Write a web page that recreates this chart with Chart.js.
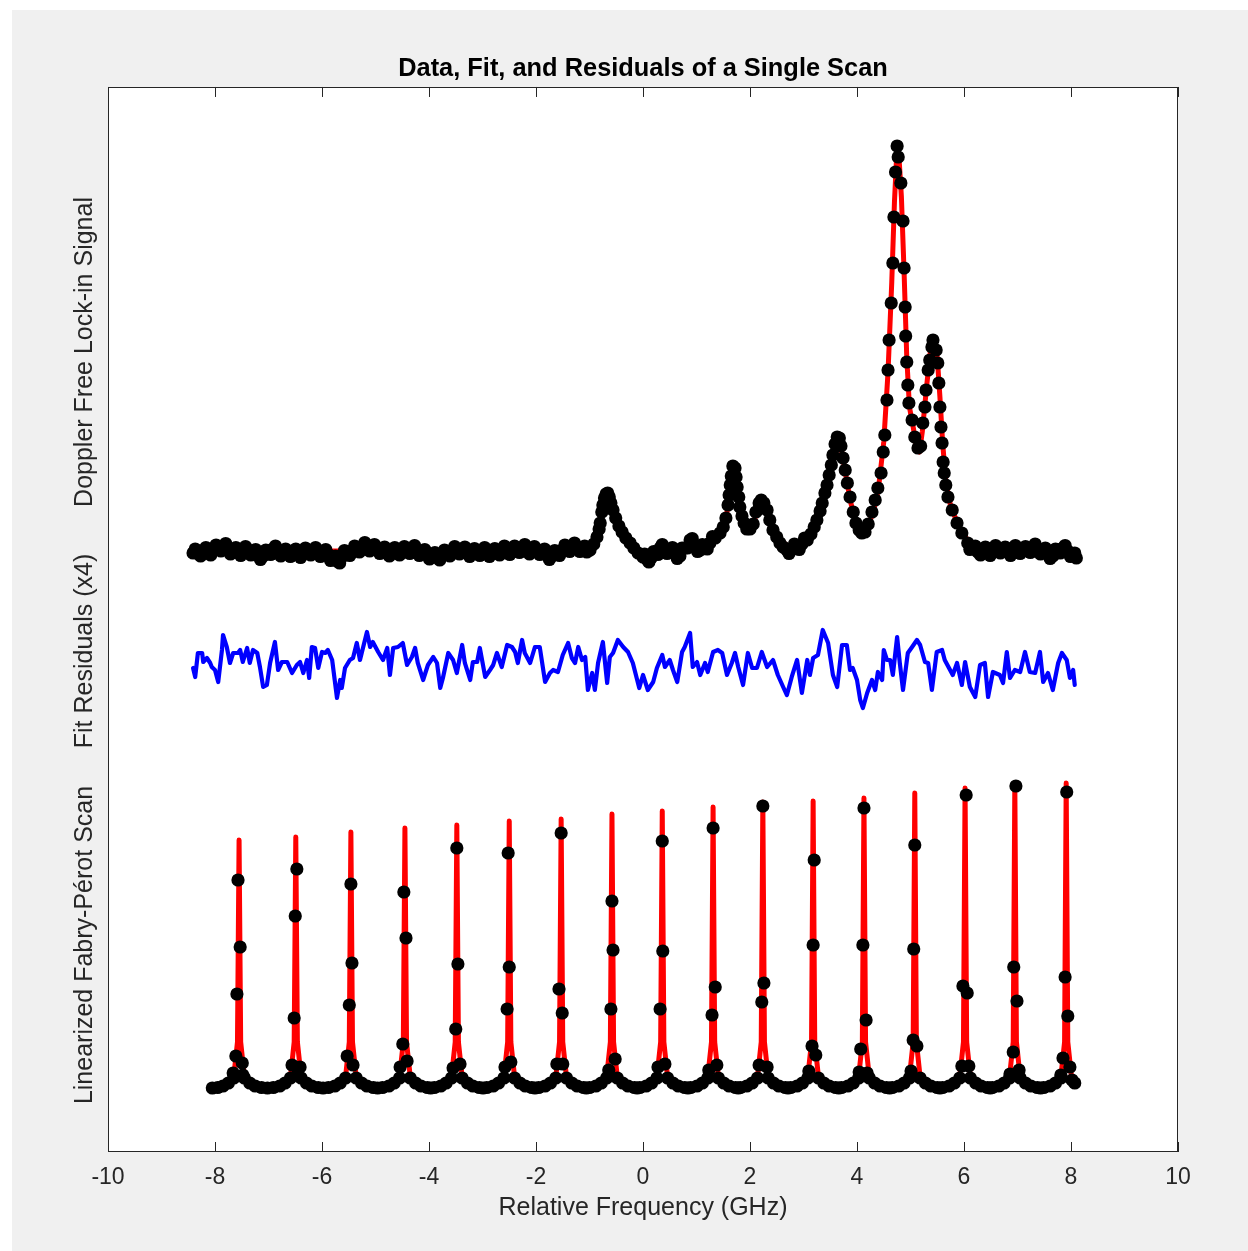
<!DOCTYPE html>
<html><head><meta charset="utf-8">
<script src="https://cdn.jsdelivr.net/npm/chart.js@4.4.1/dist/chart.umd.min.js"></script>
<style>html,body{margin:0;padding:0;background:#ffffff;}canvas{display:block;}</style>
</head><body>
<canvas id="c" width="1248" height="1251" style="width:1248px;height:1251px"></canvas>
<script>
// ---------- DATA (x in GHz, y in arbitrary stacked signal units) ----------
const xTickValues = [-10,-8,-6,-4,-2,0,2,4,6,8,10];

const scanData = [
[-8.41,59.9],[-8.33,59.9],[-8.22,60.1],[-8.13,60.0],[-8.03,60.2],[-7.94,60.4],[-7.85,60.6],[-7.76,60.3],[-7.66,60.1],[-7.57,60.0],
[-7.48,60.1],[-7.38,60.2],[-7.29,60.0],[-7.20,59.7],[-7.10,59.6],[-7.01,60.0],[-6.92,60.3],[-6.82,60.1],[-6.73,59.9],[-6.64,59.9],
[-6.54,60.0],[-6.45,59.8],[-6.36,59.9],[-6.26,60.1],[-6.17,60.1],[-6.08,60.0],[-5.98,59.9],[-5.89,59.8],[-5.79,59.3],[-5.72,59.1],
[-5.63,59.5],[-5.53,60.0],[-5.44,60.1],[-5.35,60.3],[-5.25,60.5],[-5.16,60.6],[-5.07,60.4],[-4.97,60.3],[-4.88,60.2],[-4.79,60.0],
[-4.69,60.0],[-4.60,60.1],[-4.51,60.1],[-4.41,60.2],[-4.32,60.3],[-4.23,60.2],[-4.13,59.9],[-4.04,59.8],[-3.94,59.6],[-3.85,59.5],
[-3.76,59.7],[-3.66,59.9],[-3.57,60.1],[-3.48,60.2],[-3.38,60.2],[-3.29,60.0],[-3.20,59.9],[-3.10,60.0],[-3.01,60.1],[-2.92,60.0],
[-2.82,59.9],[-2.73,60.0],[-2.64,60.2],[-2.54,60.2],[-2.45,60.1],[-2.36,60.3],[-2.26,60.4],[-2.17,60.3],[-2.08,60.1],[-1.98,60.2],
[-1.89,60.1],[-1.80,59.7],[-1.70,59.6],[-1.61,59.9],[-1.51,60.2],[-1.42,60.4],[-1.33,60.5],[-1.23,60.5],[-1.14,60.4],[-1.05,60.0],
[-0.99,60.2],[-0.92,60.8],[-0.86,61.5],[-0.82,62.3],[-0.80,62.9],[-0.77,64.0],[-0.75,64.7],[-0.72,65.4],[-0.69,65.8],[-0.66,65.9],
[-0.63,65.5],[-0.60,64.9],[-0.56,64.2],[-0.51,63.4],[-0.45,62.6],[-0.39,62.0],[-0.32,61.4],[-0.24,60.9],[-0.17,60.4],[-0.09,59.9],
[0.00,59.5],[0.07,59.3],[0.15,59.4],[0.24,59.9],[0.32,60.4],[0.41,60.3],[0.50,60.2],[0.60,59.9],[0.69,59.6],[0.78,60.4],
[0.88,61.2],[0.97,60.7],[1.07,60.2],[1.16,60.5],[1.25,60.9],[1.35,61.4],[1.44,61.9],[1.50,62.5],[1.55,63.4],[1.59,64.7],
[1.61,65.7],[1.63,66.7],[1.65,67.6],[1.68,68.6],[1.72,68.4],[1.74,67.5],[1.76,66.5],[1.79,65.5],[1.81,64.5],[1.85,63.6],
[1.89,62.9],[1.94,62.3],[2.00,62.3],[2.06,62.8],[2.11,64.0],[2.17,64.9],[2.21,65.2],[2.26,64.9],[2.32,64.2],[2.37,63.2],
[2.43,62.2],[2.50,61.5],[2.56,60.9],[2.62,60.5],[2.69,60.2],[2.78,60.3],[2.88,60.5],[2.97,60.8],[3.07,61.2],[3.14,61.8],
[3.20,62.5],[3.25,63.2],[3.31,64.1],[3.35,64.9],[3.40,65.9],[3.44,66.7],[3.48,67.7],[3.52,68.7],[3.55,69.7],[3.59,70.8],
[3.63,71.5],[3.67,71.4],[3.70,70.6],[3.74,69.4],[3.78,68.2],[3.82,66.9],[3.87,65.5],[3.93,64.0],[3.98,62.9],[4.04,62.2],
[4.09,61.9],[4.15,62.0],[4.21,62.8],[4.28,64.0],[4.34,65.2],[4.39,66.4],[4.45,67.9],[4.49,70.0],[4.52,71.7],[4.56,75.2],
[4.58,78.2],[4.60,81.2],[4.64,84.9],[4.67,88.9],[4.69,93.5],[4.72,98.0],[4.75,100.6],[4.77,99.5],[4.82,96.9],[4.86,93.1],
[4.88,88.4],[4.90,84.5],[4.91,81.6],[4.93,79.0],[4.95,76.7],[4.97,74.9],[5.03,73.2],[5.08,71.5],[5.14,70.4],[5.19,70.6],
[5.23,72.9],[5.27,74.5],[5.29,76.2],[5.33,78.2],[5.36,79.2],[5.40,80.5],[5.42,81.2],[5.48,80.2],[5.51,78.9],[5.53,76.9],
[5.55,74.5],[5.57,72.5],[5.59,70.9],[5.61,69.0],[5.63,67.9],[5.66,66.7],[5.70,65.5],[5.78,64.2],[5.87,62.9],[5.96,61.9],
[6.07,60.9],[6.16,60.4],[6.26,60.0],[6.36,60.2],[6.45,60.0],[6.54,60.1],[6.64,60.4],[6.73,60.2],[6.82,60.0],[6.92,60.1],
[7.01,60.4],[7.10,60.1],[7.20,60.2],[7.29,60.5],[7.38,60.3],[7.48,60.1],[7.57,59.9],[7.66,59.6],[7.76,60.2],[7.85,60.4],
[7.94,60.1],[8.04,59.8],[8.10,59.4],
// interleaved baseline samples (scatter of the noisy flat regions)
[-8.37,60.3],[-8.27,59.6],[-8.17,60.45],[-8.08,59.7],[-7.98,60.7],[-7.89,60.1],[-7.80,60.85],[-7.71,59.8],[-7.61,60.45],[-7.52,59.65],
[-7.43,60.55],[-7.33,59.7],[-7.24,60.25],[-7.15,59.25],[-7.05,60.2],[-6.96,59.75],[-6.87,60.6],[-6.77,59.6],[-6.68,60.3],[-6.59,59.55],
[-6.49,60.3],[-6.40,59.45],[-6.31,60.4],[-6.21,59.7],[-6.12,60.45],[-6.03,59.55],[-5.93,60.25],[-5.84,59.15],[-5.75,59.6],[-5.67,58.9],
[-5.58,60.15],[-5.48,59.65],[-5.39,60.6],[-5.30,60.0],[-5.20,60.95],[-5.11,60.1],[-5.02,60.75],[-4.92,59.85],[-4.83,60.5],[-4.74,59.6],
[-4.64,60.45],[-4.55,59.7],[-4.46,60.55],[-4.36,59.85],[-4.27,60.65],[-4.18,59.65],[-4.08,60.25],[-3.99,59.3],[-3.89,59.95],[-3.80,59.2],
[-3.71,60.2],[-3.61,59.6],[-3.52,60.55],[-3.43,59.8],[-3.33,60.5],[-3.24,59.55],[-3.15,60.35],[-3.05,59.65],[-2.96,60.45],[-2.87,59.55],
[-2.77,60.35],[-2.68,59.7],[-2.59,60.6],[-2.49,59.75],[-2.40,60.6],[-2.31,59.95],[-2.21,60.75],[-2.12,59.8],[-2.03,60.55],[-1.93,59.75],
[-1.84,60.3],[-1.75,59.25],[-1.65,60.15],[-1.56,59.65],[-1.46,60.7],[-1.37,60.05],[-1.28,60.9],[-1.18,60.05],[-1.09,60.6],
[0.03,59.8],[0.11,59.0],[0.20,60.05],[0.28,59.75],[0.36,60.75],[0.45,59.85],[0.55,60.45],[0.64,59.35],[0.73,60.4],[0.83,60.4],
[0.92,61.35],[1.02,60.05],[1.11,60.75],[1.20,60.3],[1.30,61.55],[2.73,59.85],[2.83,60.8],[2.92,60.25],[3.02,61.4],
[6.11,60.25],[6.21,60.6],[6.31,59.7],[6.40,60.5],[6.49,59.65],[6.59,60.65],[6.68,59.9],[6.77,60.5],[6.87,59.65],[6.96,60.65],
[7.05,59.85],[7.15,60.55],[7.24,59.95],[7.33,60.8],[7.43,59.8],[7.52,60.4],[7.61,59.35],[7.71,60.3],[7.80,59.9],[7.89,60.65],
[7.99,59.55],[8.07,59.9]
];

const scanFit = [
[-8.41,60.0],[-7.0,60.1],[-5.5,60.1],[-4.0,60.1],[-2.0,60.15],[-1.3,60.3],[-1.0,60.6],[-0.9,61.0],[-0.82,62.0],[-0.77,63.8],
[-0.72,65.2],[-0.67,65.8],[-0.62,65.2],[-0.55,64.0],[-0.45,62.7],[-0.3,61.4],[-0.15,60.5],[0.0,59.9],[0.15,59.8],[0.4,60.0],
[0.8,60.3],[1.1,60.6],[1.3,61.0],[1.45,61.8],[1.55,63.2],[1.62,66.0],[1.68,68.3],[1.74,67.6],[1.8,65.0],[1.88,63.0],
[1.97,62.3],[2.06,62.8],[2.15,64.4],[2.22,65.1],[2.3,64.3],[2.4,62.6],[2.5,61.5],[2.7,60.6],[2.9,60.6],[3.1,61.2],
[3.25,62.8],[3.4,65.5],[3.5,68.0],[3.58,70.5],[3.64,71.4],[3.7,70.5],[3.78,68.0],[3.88,65.0],[4.0,62.6],[4.1,62.0],
[4.2,62.6],[4.3,63.9],[4.4,66.3],[4.5,71.0],[4.58,78.0],[4.65,87.0],[4.7,95.0],[4.74,99.5],[4.76,100.2],[4.79,99.0],
[4.83,95.5],[4.88,88.0],[4.93,79.5],[4.98,74.5],[5.05,72.5],[5.12,70.3],[5.17,70.0],[5.22,72.0],[5.3,76.5],[5.38,80.5],
[5.43,81.0],[5.5,79.5],[5.55,75.5],[5.6,71.0],[5.66,67.0],[5.75,64.6],[5.9,62.6],[6.1,60.9],[6.4,60.2],[7.0,60.1],[8.1,60.0]
];

const residuals = [
[-8.41,48.4],[-8.37,47.5],[-8.32,49.9],[-8.24,49.9],[-8.22,49.0],[-8.15,49.4],[-8.09,48.9],[-8.06,48.5],[-8.00,48.2],[-7.94,47.0],
[-7.87,50.2],[-7.85,51.7],[-7.78,50.5],[-7.72,48.9],[-7.66,49.9],[-7.57,49.9],[-7.53,50.2],[-7.48,49.0],[-7.40,50.4],[-7.35,48.9],
[-7.29,50.2],[-7.21,49.9],[-7.16,48.5],[-7.10,46.5],[-7.03,46.7],[-6.97,48.9],[-6.88,51.0],[-6.82,48.2],[-6.75,49.0],[-6.65,49.0],
[-6.56,47.9],[-6.47,48.7],[-6.41,49.0],[-6.35,47.9],[-6.28,49.2],[-6.24,47.4],[-6.19,50.5],[-6.13,50.4],[-6.07,48.4],[-6.00,50.0],
[-5.94,49.9],[-5.89,50.2],[-5.81,49.2],[-5.72,45.4],[-5.66,47.2],[-5.63,46.4],[-5.57,48.4],[-5.48,49.2],[-5.42,49.4],[-5.35,50.9],
[-5.29,49.2],[-5.16,52.0],[-5.10,50.5],[-5.05,51.0],[-4.95,50.0],[-4.86,49.2],[-4.78,50.4],[-4.73,47.7],[-4.67,50.4],[-4.58,50.5],
[-4.49,50.9],[-4.41,48.7],[-4.32,49.5],[-4.26,50.4],[-4.21,48.9],[-4.11,47.2],[-4.02,48.7],[-3.92,49.5],[-3.85,48.9],[-3.79,46.4],
[-3.74,47.4],[-3.64,49.9],[-3.55,49.2],[-3.48,47.9],[-3.38,50.7],[-3.33,48.9],[-3.23,47.2],[-3.18,49.0],[-3.10,49.0],[-3.05,50.4],
[-2.95,47.5],[-2.86,48.2],[-2.80,48.7],[-2.73,49.9],[-2.64,48.5],[-2.54,50.7],[-2.45,50.5],[-2.39,50.0],[-2.34,48.9],[-2.26,51.2],
[-2.21,49.9],[-2.11,48.9],[-2.02,50.5],[-1.93,50.5],[-1.83,47.0],[-1.74,47.9],[-1.68,48.2],[-1.59,48.0],[-1.50,49.7],[-1.40,50.9],
[-1.33,49.4],[-1.27,48.9],[-1.21,50.5],[-1.14,49.2],[-1.08,49.5],[-1.03,46.2],[-0.95,47.9],[-0.90,46.2],[-0.84,48.9],[-0.75,51.0],
[-0.67,46.9],[-0.62,49.5],[-0.56,49.9],[-0.47,51.2],[-0.37,50.5],[-0.28,50.0],[-0.19,48.9],[-0.07,46.4],[0.00,47.7],[0.09,46.2],
[0.19,47.0],[0.26,48.4],[0.36,49.7],[0.41,48.5],[0.50,49.2],[0.56,48.2],[0.64,47.0],[0.73,50.0],[0.78,50.5],[0.88,51.9],
[0.93,48.5],[1.01,49.0],[1.07,47.7],[1.16,48.9],[1.21,48.0],[1.31,50.0],[1.40,50.2],[1.48,49.9],[1.57,47.7],[1.66,48.9],
[1.72,49.9],[1.78,48.5],[1.87,46.7],[1.96,49.9],[2.04,48.4],[2.13,48.4],[2.22,50.0],[2.32,48.5],[2.43,49.2],[2.52,47.7],
[2.62,46.5],[2.69,45.7],[2.78,47.5],[2.88,49.2],[2.97,45.9],[3.07,49.2],[3.12,47.7],[3.18,49.4],[3.27,49.7],[3.36,52.2],
[3.46,50.9],[3.55,47.7],[3.63,46.5],[3.72,50.7],[3.81,50.7],[3.87,48.2],[3.92,48.4],[4.00,47.2],[4.06,45.2],[4.11,44.4],
[4.19,45.9],[4.28,47.2],[4.34,46.2],[4.39,48.0],[4.47,47.2],[4.50,50.2],[4.56,49.2],[4.62,49.2],[4.67,47.7],[4.75,51.5],
[4.80,48.9],[4.86,46.2],[4.95,49.9],[5.03,50.5],[5.12,51.2],[5.18,50.7],[5.27,49.0],[5.33,48.9],[5.40,46.2],[5.49,50.0],
[5.59,50.2],[5.64,49.2],[5.74,48.2],[5.79,47.7],[5.87,48.9],[5.96,46.7],[6.02,49.0],[6.11,46.5],[6.21,45.5],[6.30,48.7],
[6.39,48.9],[6.45,45.5],[6.54,48.0],[6.67,47.7],[6.73,46.9],[6.80,50.0],[6.86,47.4],[6.95,48.2],[7.05,48.0],[7.14,50.0],
[7.23,48.0],[7.33,47.9],[7.42,50.0],[7.48,47.0],[7.57,47.9],[7.66,46.2],[7.76,48.9],[7.83,49.9],[7.92,49.2],[7.98,47.4],
[8.04,48.2],[8.07,46.7]
];

const fabryPerotData = [
[-8.05,6.4],[-7.95,6.45],[-7.85,6.6],[-7.75,6.9],[-7.65,7.4],
[-7.66,7.9],[-7.61,9.6],[-7.59,15.8],[-7.57,27.2],[-7.53,20.5],[-7.49,8.9],[-7.48,7.7],
[-7.45,7.4],[-7.35,6.9],[-7.25,6.6],[-7.13,6.45],[-7.02,6.4],[-6.91,6.45],[-6.79,6.6],[-6.69,6.9],[-6.59,7.4],
[-6.56,8.7],[-6.52,13.4],[-6.50,23.6],[-6.47,28.3],[-6.45,7.8],[-6.41,8.5],
[-6.39,7.4],[-6.29,6.9],[-6.19,6.6],[-6.07,6.45],[-5.98,6.4],[-5.88,6.45],[-5.76,6.6],[-5.66,6.9],[-5.56,7.4],
[-5.53,9.6],[-5.49,14.7],[-5.46,26.8],[-5.44,18.9],[-5.42,8.7],
[-5.36,7.4],[-5.26,6.9],[-5.16,6.6],[-5.04,6.45],[-4.96,6.4],[-4.87,6.45],[-4.75,6.6],[-4.65,6.9],[-4.55,7.4],
[-4.54,8.5],[-4.49,10.8],[-4.47,26.0],[-4.43,21.4],[-4.41,9.1],
[-4.35,7.4],[-4.25,6.9],[-4.15,6.6],[-4.03,6.45],[-3.97,6.4],[-3.90,6.45],[-3.78,6.6],[-3.68,6.9],[-3.58,7.4],
[-3.55,8.4],[-3.50,12.3],[-3.48,30.4],[-3.46,18.8],[-3.42,8.8],
[-3.38,7.4],[-3.28,6.9],[-3.18,6.6],[-3.06,6.45],[-2.99,6.4],[-2.92,6.45],[-2.80,6.6],[-2.70,6.9],[-2.60,7.4],
[-2.58,8.5],[-2.54,14.3],[-2.52,29.9],[-2.50,18.5],[-2.47,9.0],
[-2.40,7.4],[-2.30,6.9],[-2.20,6.6],[-2.08,6.45],[-2.02,6.4],[-1.95,6.45],[-1.83,6.6],[-1.73,6.9],[-1.63,7.4],
[-1.61,8.8],[-1.57,16.3],[-1.53,31.9],[-1.51,13.9],[-1.50,8.8],
[-1.43,7.4],[-1.33,6.9],[-1.23,6.6],[-1.11,6.45],[-1.06,6.4],[-1.00,6.45],[-0.88,6.6],[-0.78,6.9],[-0.68,7.4],
[-0.64,8.2],[-0.60,14.3],[-0.58,25.1],[-0.56,20.2],[-0.52,9.3],
[-0.48,7.4],[-0.38,6.9],[-0.28,6.6],[-0.16,6.45],[-0.11,6.4],[-0.06,6.45],[0.06,6.6],[0.16,6.9],[0.26,7.4],
[0.28,8.5],[0.32,14.3],[0.36,31.1],[0.37,20.1],[0.41,8.8],
[0.46,7.4],[0.56,6.9],[0.66,6.6],[0.78,6.45],[0.84,6.4],[0.89,6.45],[1.01,6.6],[1.11,6.9],[1.21,7.4],
[1.23,8.2],[1.29,13.7],[1.31,32.4],[1.35,16.5],[1.38,8.7],
[1.41,7.4],[1.51,6.9],[1.61,6.6],[1.73,6.45],[1.78,6.4],[1.82,6.45],[1.94,6.6],[2.04,6.9],[2.14,7.4],
[2.17,8.7],[2.22,15.0],[2.24,34.6],[2.26,16.9],[2.32,8.5],
[2.34,7.4],[2.44,6.9],[2.54,6.6],[2.66,6.45],[2.71,6.4],[2.76,6.45],[2.88,6.6],[2.98,6.9],[3.08,7.4],
[3.10,8.1],[3.16,10.6],[3.18,20.7],[3.20,29.2],[3.23,9.7],
[3.28,7.4],[3.38,6.9],[3.48,6.6],[3.60,6.45],[3.66,6.4],[3.71,6.45],[3.83,6.6],[3.93,6.9],[4.03,7.4],
[4.04,8.0],[4.07,10.3],[4.11,20.7],[4.13,34.4],[4.17,13.2],[4.19,7.9],
[4.23,7.4],[4.33,6.9],[4.43,6.6],[4.55,6.45],[4.61,6.4],[4.66,6.45],[4.78,6.6],[4.88,6.9],[4.98,7.4],
[5.01,8.1],[5.05,11.2],[5.06,20.3],[5.08,30.7],[5.12,10.6],
[5.18,7.4],[5.28,6.9],[5.38,6.6],[5.50,6.45],[5.55,6.4],[5.60,6.45],[5.72,6.6],[5.82,6.9],[5.92,7.4],
[5.96,8.6],[5.98,16.6],[6.04,35.7],[6.06,15.9],[6.09,8.6],
[6.12,7.4],[6.22,6.9],[6.32,6.6],[6.44,6.45],[6.49,6.4],[6.53,6.45],[6.65,6.6],[6.75,6.9],[6.85,7.4],
[6.86,7.8],[6.92,10.0],[6.93,18.5],[6.97,36.6],[6.99,15.1],[7.03,8.2],
[7.05,7.4],[7.15,6.9],[7.25,6.6],[7.37,6.45],[7.43,6.4],[7.49,6.45],[7.61,6.6],[7.71,6.9],[7.81,7.4],
[7.81,7.7],[7.85,9.4],[7.89,17.5],[7.92,36.0],[7.94,13.6],[7.98,8.5],[8.02,7.2],[8.07,6.9]
];

const fabryPerotFit = [
[-8.05,6.45],
[-7.85,6.6],[-7.65,7.5],[-7.58,11],[-7.55,31.2],[-7.52,11],[-7.45,7.5],[-7.25,6.6],
[-6.79,6.6],[-6.59,7.5],[-6.52,11],[-6.49,31.5],[-6.46,11],[-6.39,7.5],[-6.19,6.6],
[-5.76,6.6],[-5.56,7.5],[-5.49,11],[-5.46,32.0],[-5.43,11],[-5.36,7.5],[-5.16,6.6],
[-4.75,6.6],[-4.55,7.5],[-4.48,11],[-4.45,32.4],[-4.42,11],[-4.35,7.5],[-4.15,6.6],
[-3.78,6.6],[-3.58,7.5],[-3.51,11],[-3.48,32.7],[-3.45,11],[-3.38,7.5],[-3.18,6.6],
[-2.80,6.6],[-2.60,7.5],[-2.53,11],[-2.50,33.1],[-2.47,11],[-2.40,7.5],[-2.20,6.6],
[-1.83,6.6],[-1.63,7.5],[-1.56,11],[-1.53,33.3],[-1.50,11],[-1.43,7.5],[-1.23,6.6],
[-0.88,6.6],[-0.68,7.5],[-0.61,11],[-0.58,33.8],[-0.55,11],[-0.48,7.5],[-0.28,6.6],
[0.06,6.6],[0.26,7.5],[0.33,11],[0.36,34.1],[0.39,11],[0.46,7.5],[0.66,6.6],
[1.01,6.6],[1.21,7.5],[1.28,11],[1.31,34.5],[1.34,11],[1.41,7.5],[1.61,6.6],
[1.94,6.6],[2.14,7.5],[2.21,11],[2.24,35.0],[2.27,11],[2.34,7.5],[2.54,6.6],
[2.88,6.6],[3.08,7.5],[3.15,11],[3.18,35.1],[3.21,11],[3.28,7.5],[3.48,6.6],
[3.83,6.6],[4.03,7.5],[4.10,11],[4.13,35.4],[4.16,11],[4.23,7.5],[4.43,6.6],
[4.78,6.6],[4.98,7.5],[5.05,11],[5.08,35.9],[5.11,11],[5.18,7.5],[5.38,6.6],
[5.72,6.6],[5.92,7.5],[5.99,11],[6.02,36.4],[6.05,11],[6.12,7.5],[6.32,6.6],
[6.65,6.6],[6.85,7.5],[6.92,11],[6.95,36.9],[6.98,11],[7.05,7.5],[7.25,6.6],
[7.61,6.6],[7.81,7.5],[7.88,11],[7.91,36.9],[7.94,11],[8.01,7.5],[8.07,6.8]
];

const panelLabels = ["Doppler Free Lock-in Signal", "Fit Residuals (x4)", "Linearized Fabry-Pérot Scan"];
const panelLabelCenters = [80.0, 50.1, 20.7];

// ---------- CHART ----------
const FONT = '"Liberation Sans", Arial, Helvetica, sans-serif';
const toPts = arr => arr.map(p => ({x: p[0], y: p[1]}));

const decor = {
  id: 'decor',
  beforeDraw(chart) {
    const {ctx, width, height, chartArea: a} = chart;
    ctx.save();
    ctx.fillStyle = '#ffffff';
    ctx.fillRect(0, 0, width, height);
    ctx.fillStyle = '#f0f0f0';
    ctx.fillRect(12, 10, width - 12, height - 10);
    ctx.fillStyle = '#ffffff';
    ctx.fillRect(a.left, a.top, a.right - a.left, a.bottom - a.top);
    ctx.restore();
  },
  afterDraw(chart) {
    const {ctx, chartArea: a, scales: {x, y}} = chart;
    ctx.save();
    ctx.strokeStyle = '#262626';
    ctx.lineWidth = 1;
    ctx.strokeRect(Math.round(a.left) + 0.5, Math.round(a.top) + 0.5,
                   Math.round(a.right - a.left) - 1, Math.round(a.bottom - a.top) - 1);
    ctx.beginPath();
    xTickValues.forEach(v => {
      const px = Math.round(x.getPixelForValue(v)) + 0.5;
      ctx.moveTo(px, a.bottom); ctx.lineTo(px, a.bottom - 10);
      ctx.moveTo(px, a.top); ctx.lineTo(px, a.top + 10);
    });
    ctx.stroke();
    ctx.fillStyle = '#262626';
    ctx.font = '25px ' + FONT;
    ctx.textAlign = 'center';
    ctx.textBaseline = 'alphabetic';
    panelLabels.forEach((t, i) => {
      ctx.save();
      ctx.translate(a.left - 16, y.getPixelForValue(panelLabelCenters[i]));
      ctx.rotate(-Math.PI / 2);
      ctx.fillText(t, 0, 0);
      ctx.restore();
    });
    ctx.restore();
  }
};

new Chart(document.getElementById('c'), {
  type: 'scatter',
  data: {
    datasets: [
      {label: 'Data', data: toPts(scanData), showLine: false, pointRadius: 6.6, pointHoverRadius: 6.6,
       pointBackgroundColor: '#000000', pointBorderWidth: 0, order: 0},
      {label: 'Fit', data: toPts(scanFit), showLine: true, borderColor: '#ff0000', borderWidth: 5,
       pointRadius: 0, tension: 0, borderJoinStyle: 'round', order: 1},
      {label: 'Residuals', data: toPts(residuals), showLine: true, borderColor: '#0000ff', borderWidth: 4.2,
       pointRadius: 0, tension: 0, borderJoinStyle: 'round', borderCapStyle: 'round', order: 0},
      {label: 'FP data', data: toPts(fabryPerotData), showLine: false, pointRadius: 6.6, pointHoverRadius: 6.6,
       pointBackgroundColor: '#000000', pointBorderWidth: 0, order: 0},
      {label: 'FP fit', data: toPts(fabryPerotFit), showLine: true, borderColor: '#ff0000', borderWidth: 5,
       pointRadius: 0, tension: 0, borderJoinStyle: 'round', order: 1}
    ]
  },
  options: {
    responsive: false,
    animation: false,
    devicePixelRatio: 1,
    layout: {padding: {left: 108, right: 70, top: 0, bottom: 0}},
    plugins: {
      legend: {display: false},
      tooltip: {enabled: false},
      title: {
        display: true,
        text: 'Data, Fit, and Residuals of a Single Scan',
        color: '#000000',
        font: {family: FONT, size: 25.4, weight: 'bold', lineHeight: 1.2},
        padding: {top: 54, bottom: 2.5}
      }
    },
    scales: {
      x: {
        type: 'linear', min: -10, max: 10,
        grid: {display: false, drawTicks: false},
        border: {display: false},
        ticks: {stepSize: 2, autoSkip: false, maxRotation: 0, color: '#262626',
                font: {family: FONT, size: 23}, padding: 12},
        title: {display: true, text: 'Relative Frequency (GHz)', color: '#262626',
                font: {family: FONT, size: 25, lineHeight: 1.2}, padding: {top: 0, bottom: 28}},
        afterFit(scale) { scale.height = 99; }
      },
      y: {type: 'linear', min: 0, max: 106.5, display: false}
    }
  },
  plugins: [decor]
});
</script>
</body></html>
